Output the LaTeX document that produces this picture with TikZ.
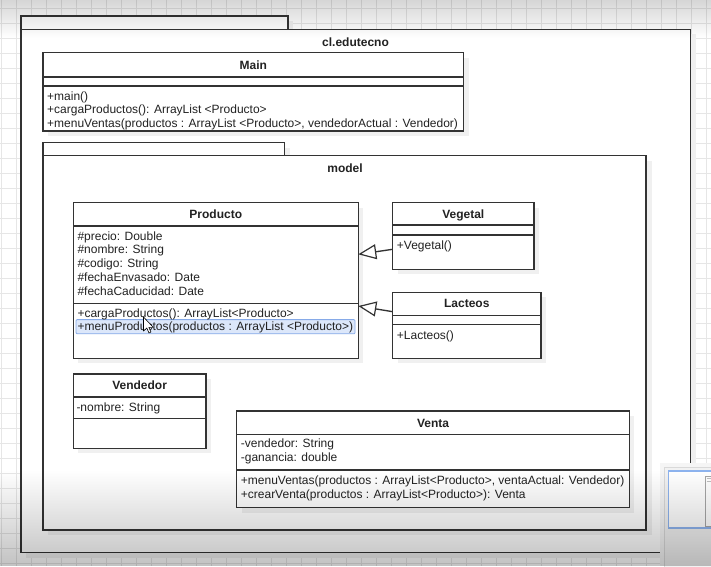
\documentclass[tikz,border=0pt]{standalone}
\usepackage{fontspec}
\setmainfont{Liberation Sans}
\usetikzlibrary{arrows.meta,fadings}

\definecolor{umlline}{HTML}{333333}
\definecolor{gridline}{HTML}{E6E6E6}
\definecolor{selfill}{HTML}{DCE7FA}
\definecolor{seldraw}{HTML}{86AAE8}
\definecolor{mapblue}{HTML}{8DB3EE}
\definecolor{inktext}{HTML}{222222}

\tikzfading[name=fadetop, top color=transparent!0, bottom color=transparent!100]
\tikzfading[name=fadebottom, top color=transparent!100, bottom color=transparent!0]

\tikzset{
  uml/.style={draw=umlline, line width=1.35pt},
  boxbase/.style={uml, fill=white, anchor=north west, inner sep=0pt, outer sep=0pt},
  softshadow/.style={fill=black!6},
  ctitle/.style={font=\fontsize{12}{14}\selectfont\bfseries, text=inktext, anchor=base, inner sep=0pt},
  member/.style={font=\fontsize{12}{14}\selectfont, text=inktext, anchor=base west, inner sep=0pt},
  inherit/.style={uml, -{Triangle[open, length=18pt, width=15pt, line width=1.2pt]}},
}

\begin{document}
\begin{tikzpicture}[x=1pt, y=-1pt]
\useasboundingbox (0,0) rectangle (711,566);

% canvas with grid
\fill[white] (0,0) rectangle (711,566);
\foreach \gx in {1.7,16.7,...,711} \draw[gridline, line width=0.8pt] (\gx,0) -- (\gx,566);
\foreach \gy in {8.3,23.3,...,566} \draw[gridline, line width=0.8pt] (0,\gy) -- (711,\gy);

% ---------- package cl.edutecno ----------
\fill[softshadow] (26,21) rectangle (293,34);
\fill[softshadow] (26,34) rectangle (696,558);
\node[boxbase, minimum width=267pt, minimum height=13.3pt] (edutecnoTab) at (21,16) {};
\node[boxbase, minimum width=669.7pt, minimum height=523pt] (edutecno) at (21,29.3) {};
\node[ctitle] (edutecnoLabel) at (355.5,46) {cl.edutecno};

% ---------- class Main ----------
\fill[softshadow] (48,58) rectangle (469,136);
\node[boxbase, minimum width=420.5pt, minimum height=78.3pt] (main) at (43,52.7) {};
\draw[uml] (main.west |- 0,77) -- (main.east |- 0,77);
\draw[uml] (main.west |- 0,86) -- (main.east |- 0,86);
\node[ctitle] (mainTitle) at (253.3,69.3) {Main};
\foreach \t [count=\i from 0] in {{+main()},{+cargaProductos(): ArrayList <Producto>},{+menuVentas(productos : ArrayList <Producto>, vendedorActual : Vendedor)}}
  \node[member] (mainOp\i) at (47,{100.3+13.6*\i}) {\t};

% ---------- package model ----------
\fill[softshadow] (48,148) rectangle (290,161);
\fill[softshadow] (48,161) rectangle (652,535);
\node[boxbase, minimum width=241.4pt, minimum height=13pt] (modelTab) at (43,142.7) {};
\node[boxbase, minimum width=603pt, minimum height=374.3pt] (model) at (43,155.7) {};
\node[ctitle] (modelLabel) at (345,172.6) {model};

% ---------- class Producto ----------
\fill[softshadow] (78,208) rectangle (363,363);
\node[boxbase, minimum width=285pt, minimum height=155.6pt] (producto) at (73.3,202.7) {};
\draw[uml] (producto.west |- 0,226) -- (producto.east |- 0,226);
\draw[uml] (producto.west |- 0,303.3) -- (producto.east |- 0,303.3);
\node[ctitle] (productoTitle) at (215.8,218.8) {Producto};
\foreach \t [count=\i from 0] in {{\#precio: Double},{\#nombre: String},{\#codigo: String},{\#fechaEnvasado: Date},{\#fechaCaducidad: Date}}
  \node[member] (productoAttr\i) at (77.3,{240+13.8*\i}) {\t};
% selected operation
\filldraw[fill=selfill, draw=seldraw, line width=0.8pt, rounded corners=1pt] (76,319.6) rectangle (355,333.8);
\foreach \t [count=\i from 0] in {{+cargaProductos(): ArrayList<Producto>},{+menuProductos(productos : ArrayList <Producto>)}}
  \node[member] (productoOp\i) at (77.3,{317+13.8*\i}) {\t};

% ---------- class Vegetal ----------
\fill[softshadow] (398,208) rectangle (539,274);
\node[boxbase, minimum width=141.3pt, minimum height=66.6pt] (vegetal) at (392.7,202.7) {};
\draw[uml] (vegetal.west |- 0,225) -- (vegetal.east |- 0,225);
\draw[uml] (vegetal.west |- 0,235) -- (vegetal.east |- 0,235);
\node[ctitle] (vegetalTitle) at (463.3,218.3) {Vegetal};
\node[member] (vegetalOp0) at (396.7,249.3) {+Vegetal()};

% ---------- class Lacteos ----------
\fill[softshadow] (398,297) rectangle (546,363);
\node[boxbase, minimum width=148.3pt, minimum height=66pt] (lacteos) at (392.7,292.3) {};
\draw[uml] (lacteos.west |- 0,315.3) -- (lacteos.east |- 0,315.3);
\draw[uml] (lacteos.west |- 0,324.3) -- (lacteos.east |- 0,324.3);
\node[ctitle] (lacteosTitle) at (466.8,307.8) {Lacteos};
\node[member] (lacteosOp0) at (396.7,339.3) {+Lacteos()};

% ---------- generalisations ----------
\draw[inherit] ([yshift=-13.3pt]vegetal.west) -- ([yshift=26.2pt]producto.east);
\draw[inherit] ([yshift=13.6pt]lacteos.west) -- ([yshift=-25.5pt]producto.east);

% ---------- class Vendedor ----------
\fill[softshadow] (78,379) rectangle (211,453);
\node[boxbase, minimum width=132.7pt, minimum height=74.3pt] (vendedor) at (73.3,374) {};
\draw[uml] (vendedor.west |- 0,397) -- (vendedor.east |- 0,397);
\draw[uml] (vendedor.west |- 0,418.7) -- (vendedor.east |- 0,418.7);
\node[ctitle] (vendedorTitle) at (139.6,389.8) {Vendedor};
\node[member] (vendedorAttr0) at (76.3,411) {-nombre: String};

% ---------- class Venta ----------
\fill[softshadow] (242,416) rectangle (634,513);
\node[boxbase, minimum width=392.6pt, minimum height=96.7pt] (venta) at (236.7,411) {};
\draw[uml] (venta.west |- 0,434.3) -- (venta.east |- 0,434.3);
\draw[uml] (venta.west |- 0,470) -- (venta.east |- 0,470);
\node[ctitle] (ventaTitle) at (433,427) {Venta};
\foreach \t [count=\i from 0] in {{-vendedor: String},{-ganancia: double}}
  \node[member] (ventaAttr\i) at (240.7,{447.6+14*\i}) {\t};
\foreach \t [count=\i from 0] in {{+menuVentas(productos : ArrayList<Producto>, ventaActual: Vendedor)},{+crearVenta(productos : ArrayList<Producto>): Venta}}
  \node[member] (ventaOp\i) at (240.7,{484.2+13.8*\i}) {\t};

% ---------- mouse pointer ----------
\filldraw[fill=white, draw=black, line width=0.6pt, line join=round]
  (143.5,317) -- ++(0,14) -- ++(3.3,-3) -- ++(2.2,5) -- ++(2,-1) -- ++(-2.2,-4.7) -- ++(4.5,0) -- cycle;

% ---------- overview panel ----------
\fill[black!4] (660,463) rectangle (711,566);
\filldraw[fill=black!5, draw=black!15, line width=0.6pt] (664,467) rectangle (715,570);
\filldraw[fill=white, draw=mapblue, line width=1.3pt] (668.3,471) rectangle (715,528);
\draw[black!35, line width=0.6pt] (705,476) rectangle (715,526);
\draw[black!25, line width=0.5pt] (706.5,478) -- (715,478);
\draw[black!25, line width=0.5pt] (706.5,481) -- (715,481);

% ---------- screen shading ----------
\fill[black, opacity=0.16, path fading=fadetop] (0,0) rectangle (711,38);
\fill[black, opacity=0.24, path fading=fadebottom] (0,470) rectangle (711,566);
\end{tikzpicture}
\end{document}
